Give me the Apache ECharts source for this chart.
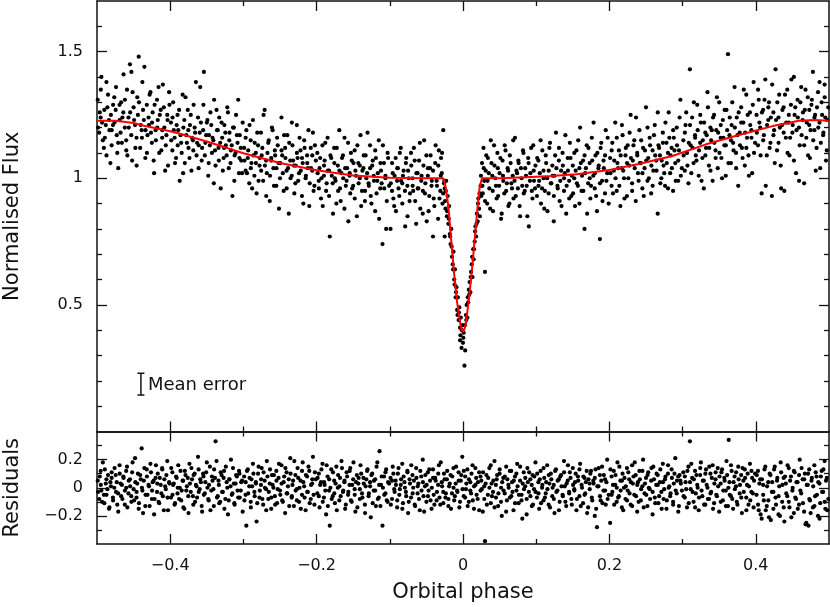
<!DOCTYPE html>
<html>
<head>
<meta charset="utf-8">
<script src="https://cdn.jsdelivr.net/npm/echarts@6/dist/echarts.min.js"></script>
<style>
  html, body { margin: 0; padding: 0; background: #fff; }
  #chart { width: 830px; height: 607px; }
</style>
</head>
<body>
<div id="chart"></div>
<script>
// tick positions
const phaseMajor = [-0.4, -0.2, 0, 0.2, 0.4];
const phaseMinor = [-0.3, -0.1, 0.1, 0.3];
const fluxMajor = [0.5, 1, 1.5];
const fluxMinor = [0.1, 0.2, 0.3, 0.4, 0.6, 0.7, 0.8, 0.9, 1.1, 1.2, 1.3, 1.4, 1.6];
const residMajor = [-0.2, 0, 0.2];
const residMinor = [-0.3, -0.1, 0.1, 0.3];

// model light curve (red line)
const modelPhase = [-0.5, -0.475, -0.45, -0.434, -0.4, -0.389, -0.35, -0.3, -0.25, -0.2, -0.15, -0.1, -0.05, -0.027,
  -0.024, -0.02, -0.016, -0.012, -0.008, -0.004, -0.002, 0, 0.002, 0.004, 0.008, 0.012, 0.016, 0.02, 0.023, 0.026,
  0.05, 0.086, 0.12, 0.155, 0.2, 0.24, 0.286, 0.332, 0.377, 0.423, 0.459, 0.48, 0.5];
const modelFlux = [1.227, 1.227, 1.218, 1.206, 1.186, 1.178, 1.145, 1.099, 1.06, 1.032, 1.011, 1.002, 1.0, 1.0,
  0.97, 0.89, 0.75, 0.62, 0.51, 0.43, 0.405, 0.394, 0.405, 0.43, 0.52, 0.63, 0.76, 0.89, 0.97, 1.0,
  1.0, 1.004, 1.009, 1.016, 1.033, 1.056, 1.088, 1.134, 1.171, 1.206, 1.227, 1.23, 1.227];

// mean error bar: [phase, flux], half length
const meanErrorAt = [-0.44, 0.187];
const meanErrorHalf = 0.043;

// observed fluxes [phase, flux], first run
const fluxObsA = [
[-0.499,1.31],[-0.497,1.18],[-0.495,1.24],[-0.494,1.40],[-0.492,1.15],[-0.490,1.27],[-0.488,1.21],[-0.487,1.09],[-0.485,1.33],[-0.483,1.19],
[-0.481,1.25],[-0.480,1.13],[-0.478,1.29],[-0.476,1.22],[-0.474,1.36],[-0.473,1.17],[-0.471,1.04],[-0.469,1.23],[-0.467,1.30],[-0.466,1.14],
[-0.464,1.26],[-0.462,1.20],[-0.460,1.11],[-0.459,1.35],[-0.457,1.24],[-0.455,1.45],[-0.453,1.42],[-0.452,1.07],[-0.450,1.28],[-0.448,1.21],
[-0.446,1.16],[-0.445,1.32],[-0.443,1.48],[-0.441,1.12],[-0.439,1.19],[-0.438,1.38],[-0.436,1.23],[-0.434,1.08],[-0.432,1.29],[-0.431,1.17],
[-0.429,1.21],[-0.427,1.34],[-0.425,1.14],[-0.424,1.26],[-0.422,1.02],[-0.420,1.19],[-0.418,1.31],[-0.417,1.23],[-0.415,1.10],[-0.413,1.27],
[-0.411,1.16],[-0.410,1.37],[-0.408,1.20],[-0.406,1.13],[-0.404,1.25],[-0.403,1.05],[-0.401,1.29],
[-0.399,1.22],[-0.397,1.11],[-0.396,1.30],[-0.394,1.16],[-0.392,1.08],[-0.390,1.25],[-0.389,1.19],[-0.387,0.99],[-0.385,1.14],[-0.383,1.33],
[-0.382,1.20],[-0.380,1.06],[-0.378,1.17],[-0.376,1.27],[-0.375,1.12],[-0.373,1.21],[-0.371,1.03],[-0.369,1.15],[-0.368,1.29],[-0.366,1.18],
[-0.364,1.09],[-0.362,1.24],[-0.361,1.13],[-0.359,1.36],[-0.357,1.07],[-0.355,1.19],[-0.354,1.42],[-0.352,1.14],[-0.350,1.22],[-0.348,1.01],
[-0.347,1.17],[-0.345,1.26],[-0.343,1.10],[-0.341,1.15],[-0.340,1.31],[-0.338,1.05],[-0.336,1.19],[-0.334,1.12],[-0.333,1.24],[-0.331,0.96],
[-0.329,1.16],[-0.327,1.08],[-0.326,1.21],[-0.324,1.13],[-0.322,1.28],[-0.320,1.04],[-0.319,1.18],[-0.317,1.11],[-0.315,0.93],[-0.313,1.20],
[-0.312,1.09],[-0.310,1.25],[-0.308,1.14],[-0.306,1.02],[-0.305,1.17],[-0.303,1.07],[-0.301,1.22],
[-0.299,1.12],[-0.297,1.03],[-0.296,1.19],[-0.294,1.08],[-0.292,0.98],[-0.290,1.15],[-0.289,1.06],[-0.287,1.23],[-0.285,1.01],[-0.283,1.10],
[-0.282,0.94],[-0.280,1.13],[-0.278,1.05],[-0.276,1.18],[-0.275,1.09],[-0.273,0.99],[-0.271,1.27],[-0.269,1.07],[-0.268,1.02],[-0.266,1.14],
[-0.264,0.91],[-0.262,1.08],[-0.261,1.20],[-0.259,1.04],[-0.257,1.11],[-0.255,0.97],[-0.254,1.16],[-0.252,1.06],[-0.250,1.00],[-0.248,1.24],
[-0.247,1.09],[-0.245,0.95],[-0.243,1.12],[-0.241,1.03],[-0.240,1.17],[-0.238,0.86],[-0.236,1.07],[-0.234,1.01],[-0.233,1.13],[-0.231,1.05],
[-0.229,0.98],[-0.227,1.21],[-0.226,1.08],[-0.224,1.02],[-0.222,1.11],[-0.220,0.93],[-0.219,1.06],[-0.217,1.15],[-0.215,1.00],[-0.213,1.09],
[-0.212,1.04],[-0.210,0.89],[-0.208,1.12],[-0.206,1.03],[-0.205,1.18],[-0.203,0.97],[-0.201,1.07],
[-0.199,1.10],[-0.197,0.99],[-0.196,1.04],[-0.194,0.92],[-0.192,1.13],[-0.190,1.01],[-0.189,1.07],[-0.187,0.95],[-0.185,1.16],[-0.183,1.03],
[-0.182,0.77],[-0.180,1.08],[-0.178,0.98],[-0.176,1.12],[-0.175,1.00],[-0.173,0.90],[-0.171,1.05],[-0.169,1.19],[-0.168,0.96],[-0.166,1.02],
[-0.164,1.09],[-0.162,0.88],[-0.161,1.04],[-0.159,0.99],[-0.157,1.14],[-0.155,1.01],[-0.154,0.94],[-0.152,1.07],[-0.150,0.97],[-0.148,1.11],
[-0.147,1.03],[-0.145,0.85],[-0.143,1.06],[-0.141,1.00],[-0.140,1.17],[-0.138,0.95],[-0.136,1.04],[-0.134,0.91],[-0.133,1.09],[-0.131,1.02],
[-0.129,0.98],[-0.127,1.13],[-0.126,0.93],[-0.124,1.05],[-0.122,1.01],[-0.120,0.87],[-0.119,1.08],[-0.117,0.99],[-0.115,1.15],[-0.113,0.96],
[-0.112,1.03],[-0.110,0.74],[-0.108,1.06],[-0.106,1.00],[-0.105,0.80],[-0.103,1.10],[-0.101,0.97],
[-0.099,0.80],[-0.097,0.95],[-0.096,1.02],[-0.094,0.89],[-0.092,1.08],[-0.090,0.99],[-0.089,1.04],[-0.087,0.93],[-0.085,1.12],[-0.083,0.98],
[-0.082,1.01],[-0.079,0.81],[-0.078,1.06],[-0.076,0.97],[-0.075,1.03],[-0.073,0.91],[-0.071,1.10],[-0.069,1.00],[-0.068,0.95],[-0.066,1.07],
[-0.064,0.82],[-0.062,1.02],[-0.061,0.96],[-0.059,1.14],[-0.057,0.99],[-0.055,0.86],[-0.054,1.05],[-0.052,0.94],[-0.050,1.09],[-0.048,1.01],
[-0.047,0.87],[-0.045,1.04],[-0.043,0.97],[-0.041,0.77],[-0.040,0.92],[-0.038,1.06],[-0.036,0.99],[-0.034,0.84],[-0.033,1.11],[-0.031,0.95],
[-0.030,1.08],[-0.029,1.02],[-0.028,0.90],[-0.027,1.19],[-0.026,0.98],
[-0.025,0.77],[-0.025,0.96],[-0.024,0.88],[-0.023,0.99],[-0.022,0.85],[-0.021,0.93],[-0.020,0.82],[-0.019,0.89],[-0.018,0.78],[-0.017,0.74],
[-0.016,0.80],[-0.015,0.69],[-0.014,0.66],[-0.013,0.71],[-0.012,0.60],[-0.011,0.64],[-0.010,0.53],[-0.009,0.57],[-0.008,0.48],[-0.007,0.53],
[-0.006,0.44],[-0.005,0.49],[-0.004,0.36],[-0.004,0.41],[-0.003,0.45],[-0.002,0.33],[-0.001,0.42],[0.000,0.35],[0.001,0.39],[0.002,0.26],
[0.003,0.32],[0.004,0.46],[0.005,0.50],[0.006,0.45],[0.007,0.51],[0.008,0.56],[0.009,0.59],[0.010,0.55],[0.011,0.63],[0.012,0.66],
[0.013,0.61],[0.014,0.72],[0.015,0.72],[0.016,0.75],[0.017,0.81],[0.018,0.77],[0.019,0.86],[0.020,0.83],[0.021,0.92],[0.022,0.88],
[0.023,0.85],[0.024,0.97],[0.025,0.93],
[0.026,1.06],[0.027,0.94],[0.028,1.12],[0.029,0.99],[0.030,0.63],[0.031,1.03],[0.033,0.90],[0.034,1.08],[0.036,0.96],[0.038,1.15],
[0.040,1.01],[0.041,0.87],[0.043,1.05],[0.045,0.97],[0.047,1.10],[0.048,0.93],[0.050,1.02],[0.052,0.84],[0.054,1.07],[0.055,0.99],
[0.057,1.13],[0.059,0.95],[0.061,1.04],[0.062,0.89],[0.064,1.09],[0.066,0.98],[0.068,1.01],[0.069,0.92],[0.071,1.16],[0.073,1.03],
[0.075,0.96],[0.076,1.06],[0.078,0.85],[0.080,1.00],[0.082,1.11],[0.083,0.94],[0.085,1.04],[0.087,0.97],[0.089,1.08],[0.090,0.81],
[0.092,1.02],[0.094,0.95],[0.096,1.13],[0.097,0.99],[0.099,1.05],
[0.101,0.93],[0.103,1.07],[0.104,0.99],[0.106,1.15],[0.108,0.96],[0.110,1.03],[0.111,0.88],[0.113,1.09],[0.115,1.00],[0.117,0.94],
[0.118,1.12],[0.120,0.98],[0.122,1.05],[0.124,0.83],[0.125,1.01],[0.127,1.18],[0.129,0.97],[0.131,1.07],[0.132,0.91],[0.134,1.03],
[0.136,1.10],[0.138,0.95],[0.139,1.02],[0.141,0.86],[0.143,1.08],[0.145,0.99],[0.146,1.14],[0.148,0.93],[0.150,1.05],[0.152,1.00],
[0.153,0.89],[0.155,1.11],[0.157,0.97],[0.159,1.04],[0.160,1.20],[0.162,0.95],[0.164,1.07],[0.166,0.80],[0.167,1.02],[0.169,1.13],
[0.171,0.98],[0.173,1.06],[0.174,0.92],[0.176,1.16],[0.178,1.01],[0.180,0.96],[0.181,1.09],[0.183,0.87],[0.185,1.04],[0.187,0.76],
[0.188,1.12],[0.190,0.99],[0.192,1.07],[0.194,0.94],[0.195,1.19],[0.197,1.02],[0.199,0.90],
[0.201,1.08],[0.203,0.97],[0.204,1.14],[0.206,1.03],[0.208,1.22],[0.210,0.95],[0.211,1.06],[0.213,1.11],[0.215,0.89],[0.217,1.04],
[0.218,1.17],[0.220,1.00],[0.222,1.09],[0.224,0.93],[0.225,1.13],[0.227,1.05],[0.229,1.25],[0.231,0.98],[0.232,1.07],[0.234,1.15],
[0.236,0.91],[0.238,1.10],[0.239,1.02],[0.241,1.19],[0.243,1.06],[0.245,0.96],[0.246,1.12],[0.248,1.04],[0.250,1.28],[0.252,0.99],
[0.253,1.08],[0.255,1.16],[0.257,0.94],[0.259,1.11],[0.260,1.03],[0.262,1.21],[0.264,1.07],[0.266,0.86],[0.267,1.13],[0.269,1.09],
[0.271,1.00],[0.273,1.18],[0.274,1.05],[0.276,0.97],[0.278,1.14],[0.280,1.10],[0.281,1.26],[0.283,1.02],[0.285,1.12],[0.287,0.95],
[0.288,1.16],[0.290,1.06],[0.292,1.20],[0.294,0.99],[0.295,1.11],[0.297,1.31],[0.299,1.04],
[0.301,1.15],[0.303,1.03],[0.304,1.21],[0.306,1.10],[0.308,0.98],[0.310,1.43],[0.311,1.13],[0.313,1.24],[0.315,1.06],[0.317,1.17],
[0.318,1.09],[0.320,1.29],[0.322,1.01],[0.324,1.14],[0.325,1.22],[0.327,1.08],[0.329,0.96],[0.331,1.18],[0.332,1.12],[0.334,1.34],
[0.336,1.05],[0.338,1.20],[0.339,1.15],[0.341,0.99],[0.343,1.25],[0.345,1.11],[0.346,1.19],[0.348,1.04],[0.350,1.30],[0.352,1.16],
[0.353,1.08],[0.355,1.23],[0.357,1.13],[0.359,1.01],[0.360,1.27],[0.362,1.49],[0.364,1.17],[0.366,1.06],[0.367,1.21],[0.369,1.14],
[0.371,1.36],[0.373,1.10],[0.374,1.24],[0.376,0.97],[0.378,1.18],[0.380,1.28],[0.381,1.12],[0.383,1.22],[0.385,1.05],[0.387,1.33],
[0.388,1.16],[0.390,1.09],[0.392,1.26],[0.394,1.19],[0.395,1.02],[0.397,1.38],[0.399,1.14],
[0.401,1.25],[0.403,1.13],[0.404,1.31],[0.406,1.20],[0.408,0.94],[0.410,1.27],[0.411,1.17],[0.413,1.39],[0.415,1.09],[0.417,1.23],
[0.418,1.30],[0.420,1.14],[0.422,0.93],[0.424,1.26],[0.425,1.19],[0.427,1.43],[0.429,1.11],[0.431,1.24],[0.432,1.33],[0.434,1.05],
[0.436,1.21],[0.438,1.28],[0.439,0.95],[0.441,1.16],[0.443,1.35],[0.445,1.22],[0.446,1.09],[0.448,1.29],[0.450,1.18],[0.452,1.40],
[0.453,1.25],[0.455,1.02],[0.457,1.31],[0.459,1.20],[0.460,1.13],[0.462,1.36],[0.464,1.23],[0.466,0.98],[0.467,1.27],[0.469,1.16],
[0.471,1.32],[0.473,1.21],[0.474,1.08],[0.476,1.29],[0.478,1.42],[0.480,1.19],[0.481,1.25],[0.483,1.12],[0.485,1.34],[0.487,1.22],
[0.488,1.04],[0.490,1.30],[0.492,1.17],[0.494,1.37],[0.495,1.24],[0.497,1.11],[0.499,1.28]
];

// observed fluxes [phase, flux], second run
const fluxObsB = [
[-0.4985,1.20],[-0.4962,1.26],[-0.4948,1.35],[-0.4931,1.22],[-0.4906,1.12],[-0.4893,1.16],[-0.4871,1.38],[-0.4858,1.28],[-0.4836,1.23],[-0.4817,1.06],
[-0.4799,1.19],[-0.4782,1.21],[-0.4764,1.32],[-0.4745,1.27],[-0.4723,1.10],[-0.4711,1.14],[-0.4692,1.29],[-0.4678,1.18],[-0.4653,1.24],[-0.4637,1.41],
[-0.4619,1.31],[-0.4601,1.15],[-0.4585,1.09],[-0.4566,1.20],[-0.4547,1.26],[-0.4532,1.17],[-0.4514,1.34],[-0.4493,1.23],[-0.4476,1.12],[-0.4459,1.05],
[-0.4441,1.25],[-0.4427,1.30],[-0.4402,1.21],[-0.4386,1.16],[-0.4371,1.27],[-0.4353,1.44],[-0.4337,1.19],[-0.4318,1.10],[-0.4296,1.24],[-0.4281,1.33],
[-0.4263,1.18],[-0.4248,1.22],[-0.4226,1.07],[-0.4213,1.29],[-0.4195,1.15],[-0.4177,1.20],[-0.4159,1.36],[-0.4142,1.25],[-0.4121,1.11],[-0.4108,1.19],
[-0.4087,1.28],[-0.4069,1.03],[-0.4052,1.17],[-0.4036,1.23],[-0.4015,1.34],
[-0.3986,1.15],[-0.3968,1.24],[-0.3951,1.19],[-0.3934,1.06],[-0.3912,1.21],[-0.3897,1.13],[-0.3878,1.27],[-0.3859,1.17],[-0.3843,1.10],[-0.3824,1.02],
[-0.3807,1.23],[-0.3791,1.32],[-0.3772,1.14],[-0.3753,1.19],[-0.3737,1.08],[-0.3719,1.25],[-0.3702,1.16],[-0.3684,1.11],[-0.3666,1.20],[-0.3649,1.38],
[-0.3633,1.14],[-0.3612,1.04],[-0.3597,1.18],[-0.3581,1.22],[-0.3564,1.12],[-0.3546,1.29],[-0.3527,1.09],[-0.3509,1.17],[-0.3491,1.23],[-0.3474,1.06],
[-0.3458,1.13],[-0.3439,1.21],[-0.3422,1.16],[-0.3404,0.98],[-0.3388,1.11],[-0.3367,1.27],[-0.3351,1.19],[-0.3335,1.07],[-0.3317,1.14],[-0.3298,1.22],
[-0.3281,1.03],[-0.3264,1.12],[-0.3247,1.18],[-0.3229,1.09],[-0.3211,1.26],[-0.3193,1.15],[-0.3176,1.06],[-0.3159,1.13],[-0.3142,1.20],[-0.3124,0.99],
[-0.3107,1.10],[-0.3089,1.17],[-0.3071,1.31],[-0.3054,1.08],[-0.3036,1.12],[-0.3018,1.02],
[-0.2986,1.07],[-0.2969,1.16],[-0.2951,1.02],[-0.2934,1.11],[-0.2916,1.21],[-0.2898,1.04],[-0.2881,0.96],[-0.2863,1.09],[-0.2846,1.14],[-0.2829,1.06],
[-0.2811,1.18],[-0.2793,0.99],[-0.2776,1.08],[-0.2758,1.03],[-0.2741,1.12],[-0.2724,1.25],[-0.2706,1.05],[-0.2688,0.93],[-0.2671,1.10],[-0.2653,1.15],
[-0.2636,1.01],[-0.2619,1.07],[-0.2601,1.19],[-0.2583,0.97],[-0.2566,1.09],[-0.2548,1.04],[-0.2531,1.13],[-0.2514,0.88],[-0.2496,1.06],[-0.2479,1.11],
[-0.2461,1.02],[-0.2443,1.17],[-0.2426,1.08],[-0.2409,0.96],[-0.2391,1.04],[-0.2374,1.14],[-0.2356,1.00],[-0.2338,1.22],[-0.2321,1.07],[-0.2304,0.94],
[-0.2286,1.05],[-0.2269,1.10],[-0.2251,0.99],[-0.2233,1.16],[-0.2216,1.03],[-0.2199,1.08],[-0.2181,0.90],[-0.2164,1.12],[-0.2146,1.01],[-0.2128,1.06],
[-0.2111,1.19],[-0.2094,0.98],[-0.2076,1.04],[-0.2059,1.09],[-0.2041,0.95],[-0.2023,1.13],
[-0.1986,1.02],[-0.1969,0.96],[-0.1951,1.08],[-0.1934,1.00],[-0.1916,0.89],[-0.1898,1.05],[-0.1881,1.14],[-0.1863,0.98],[-0.1846,1.03],[-0.1829,0.93],
[-0.1811,1.09],[-0.1793,1.01],[-0.1776,0.86],[-0.1758,1.06],[-0.1741,0.99],[-0.1724,1.12],[-0.1706,0.95],[-0.1688,1.03],[-0.1671,0.91],[-0.1653,1.08],
[-0.1636,1.00],[-0.1619,1.16],[-0.1601,0.97],[-0.1583,1.04],[-0.1566,0.83],[-0.1548,1.02],[-0.1531,1.10],[-0.1514,0.96],[-0.1496,1.06],[-0.1479,0.92],
[-0.1461,1.01],[-0.1443,1.13],[-0.1426,0.98],[-0.1409,1.05],[-0.1391,0.89],[-0.1374,1.03],[-0.1356,1.09],[-0.1338,0.95],[-0.1321,1.00],[-0.1304,1.18],
[-0.1286,0.97],[-0.1269,1.04],[-0.1251,0.90],[-0.1233,1.07],[-0.1216,0.99],[-0.1199,1.11],[-0.1181,0.94],[-0.1164,1.02],[-0.1146,0.84],[-0.1128,1.06],
[-0.1111,0.98],[-0.1094,1.13],[-0.1076,0.96],[-0.1059,1.01],[-0.1041,0.91],[-0.1023,1.08],
[-0.0986,0.98],[-0.0969,1.06],[-0.0951,0.92],[-0.0934,1.01],[-0.0916,0.87],[-0.0898,1.04],[-0.0881,0.96],[-0.0863,1.10],[-0.0846,0.99],[-0.0829,0.90],
[-0.0811,1.03],[-0.0793,0.95],[-0.0776,1.08],[-0.0758,0.85],[-0.0741,1.00],[-0.0724,0.94],[-0.0706,1.05],[-0.0688,0.97],[-0.0671,1.12],[-0.0653,0.91],
[-0.0636,1.02],[-0.0619,0.96],[-0.0601,1.07],[-0.0583,0.88],[-0.0566,1.01],[-0.0548,0.95],[-0.0531,1.15],[-0.0514,0.98],[-0.0496,0.83],[-0.0479,1.04],
[-0.0461,0.93],[-0.0443,1.09],[-0.0426,0.99],[-0.0409,1.03],[-0.0391,0.89],[-0.0374,1.13],[-0.0356,0.97],[-0.0338,1.05],[-0.0321,0.92],[-0.0304,1.01],
[-0.0286,1.10],[-0.0271,0.94],
[-0.0255,0.99],[-0.0245,0.91],[-0.0235,0.95],[-0.0215,0.87],[-0.0195,0.84],[-0.0175,0.77],[-0.0155,0.73],[-0.0135,0.64],[-0.0115,0.58],[-0.0095,0.55],
[-0.0075,0.46],[-0.0055,0.47],[-0.0035,0.38],[-0.0015,0.40],[0.0005,0.37],[0.0025,0.42],[0.0045,0.44],[0.0065,0.53],[0.0085,0.54],[0.0105,0.61],
[0.0125,0.69],[0.0145,0.68],[0.0165,0.79],[0.0185,0.82],[0.0205,0.90],[0.0225,0.94],[0.0245,1.01],
[0.0265,0.97],[0.0283,1.04],[0.0301,0.91],[0.0318,1.09],[0.0336,0.99],[0.0353,1.02],[0.0371,0.88],[0.0389,1.06],[0.0406,0.95],[0.0424,1.13],
[0.0441,1.00],[0.0459,0.92],[0.0476,1.04],[0.0494,0.97],[0.0511,1.08],[0.0529,0.86],[0.0546,1.01],[0.0564,0.94],[0.0581,1.11],[0.0599,0.98],
[0.0616,1.03],[0.0634,0.90],[0.0651,1.06],[0.0669,0.96],[0.0686,1.15],[0.0704,0.99],[0.0721,0.93],[0.0739,1.02],[0.0756,1.07],[0.0774,0.89],
[0.0791,1.04],[0.0809,0.97],[0.0826,1.10],[0.0844,0.95],[0.0861,1.01],[0.0879,0.85],[0.0896,1.06],[0.0914,0.99],[0.0931,1.12],[0.0949,0.92],
[0.0966,1.03],[0.0984,0.96],
[0.1014,1.08],[0.1031,0.97],[0.1049,1.02],[0.1066,0.90],[0.1084,1.11],[0.1101,1.00],[0.1119,0.95],[0.1136,1.06],[0.1154,0.87],[0.1171,1.03],
[0.1189,1.14],[0.1206,0.98],[0.1224,1.01],[0.1241,0.93],[0.1259,1.09],[0.1276,1.04],[0.1294,0.96],[0.1311,1.12],[0.1329,0.99],[0.1346,0.89],
[0.1364,1.05],[0.1381,1.00],[0.1399,1.17],[0.1416,0.97],[0.1434,1.03],[0.1451,0.92],[0.1469,1.08],[0.1486,1.01],[0.1504,0.94],[0.1521,1.10],
[0.1539,1.03],[0.1556,0.98],[0.1574,1.15],[0.1591,0.90],[0.1609,1.06],[0.1626,1.01],[0.1644,0.95],[0.1661,1.09],[0.1679,1.04],[0.1696,0.86],
[0.1714,1.12],[0.1731,1.00],[0.1749,0.97],[0.1766,1.07],[0.1784,1.22],[0.1801,1.02],[0.1819,0.93],[0.1836,1.10],[0.1854,1.05],[0.1871,0.98],
[0.1889,1.14],[0.1906,0.91],[0.1924,1.04],[0.1941,1.09],[0.1959,0.99],[0.1976,1.16],
[0.2014,1.02],[0.2031,1.11],[0.2049,0.94],[0.2066,1.07],[0.2084,1.00],[0.2101,1.16],[0.2119,1.04],[0.2136,0.97],[0.2154,1.09],[0.2171,1.21],
[0.2189,1.03],[0.2206,0.92],[0.2224,1.12],[0.2241,1.06],[0.2259,1.00],[0.2276,1.18],[0.2294,1.08],[0.2311,0.95],[0.2329,1.13],[0.2346,1.04],
[0.2364,1.24],[0.2381,1.09],[0.2399,0.99],[0.2416,1.06],[0.2434,1.15],[0.2451,1.02],[0.2469,0.93],[0.2486,1.11],[0.2504,1.07],[0.2521,1.20],
[0.2539,1.00],[0.2556,1.13],[0.2574,1.05],[0.2591,0.97],[0.2609,1.17],[0.2626,1.09],[0.2644,1.03],[0.2661,1.26],[0.2679,1.12],[0.2696,0.98],
[0.2714,1.07],[0.2731,1.14],[0.2749,1.02],[0.2766,1.22],[0.2784,1.06],[0.2801,0.96],[0.2819,1.16],[0.2836,1.09],[0.2854,1.04],[0.2871,1.19],
[0.2889,1.11],[0.2906,0.99],[0.2924,1.13],[0.2941,1.07],[0.2959,1.24],[0.2976,1.01],
[0.3014,1.09],[0.3031,1.18],[0.3049,1.26],[0.3066,1.05],[0.3084,1.14],[0.3101,1.21],[0.3119,1.02],[0.3136,1.12],[0.3154,1.30],[0.3171,1.16],
[0.3189,1.07],[0.3206,1.19],[0.3224,1.11],[0.3241,1.25],[0.3259,0.99],[0.3276,1.15],[0.3294,1.22],[0.3311,1.09],[0.3329,1.17],[0.3346,1.28],
[0.3364,1.12],[0.3381,1.03],[0.3399,1.19],[0.3416,1.24],[0.3434,1.14],[0.3451,1.08],[0.3469,1.32],[0.3486,1.18],[0.3504,1.10],[0.3521,1.21],
[0.3539,1.00],[0.3556,1.16],[0.3574,1.27],[0.3591,1.13],[0.3609,1.19],[0.3626,1.06],[0.3644,1.24],[0.3661,1.15],[0.3679,1.30],[0.3696,1.11],
[0.3714,1.20],[0.3731,1.04],[0.3749,1.17],[0.3766,1.26],[0.3784,1.13],[0.3801,1.22],[0.3819,1.08],[0.3836,1.35],[0.3854,1.18],[0.3871,1.12],
[0.3889,1.25],[0.3906,1.01],[0.3924,1.21],[0.3941,1.16],[0.3959,1.29],[0.3976,1.10],
[0.4014,1.18],[0.4031,1.35],[0.4049,1.22],[0.4066,1.09],[0.4084,1.26],[0.4101,1.15],[0.4119,1.31],[0.4136,0.97],[0.4154,1.21],[0.4171,1.28],
[0.4189,1.12],[0.4206,1.24],[0.4224,1.37],[0.4241,1.17],[0.4259,1.06],[0.4276,1.23],[0.4294,1.30],[0.4311,1.14],[0.4329,1.20],[0.4346,0.96],
[0.4364,1.27],[0.4381,1.18],[0.4399,1.33],[0.4416,1.22],[0.4434,1.10],[0.4451,1.25],[0.4469,1.16],[0.4486,1.39],[0.4504,1.21],[0.4521,1.07],
[0.4539,1.28],[0.4556,1.19],[0.4574,1.24],[0.4591,0.99],[0.4609,1.30],[0.4626,1.17],[0.4644,1.26],[0.4661,1.13],[0.4679,1.35],[0.4696,1.22],
[0.4714,1.09],[0.4731,1.27],[0.4749,1.19],[0.4766,1.31],[0.4784,1.15],[0.4801,1.24],[0.4819,1.03],[0.4836,1.28],[0.4854,1.20],[0.4871,1.38],
[0.4889,1.14],[0.4906,1.25],[0.4924,1.18],[0.4941,1.32],[0.4959,1.07],[0.4976,1.23]
];

// residuals [phase, O-C], first run
const residObsA = [
[-0.499,0.05],[-0.497,-0.08],[-0.495,0.12],[-0.494,-0.02],[-0.492,0.18],[-0.490,-0.11],[-0.488,0.03],[-0.487,-0.05],[-0.485,0.09],[-0.483,-0.14],
[-0.481,0.01],[-0.480,0.07],[-0.478,-0.09],[-0.476,0.14],[-0.474,-0.03],[-0.473,0.04],[-0.471,-0.17],[-0.469,0.10],[-0.467,-0.06],[-0.466,0.02],
[-0.464,0.08],[-0.462,-0.12],[-0.460,0.00],[-0.459,0.15],[-0.457,-0.04],[-0.455,0.06],[-0.453,-0.10],[-0.452,0.11],[-0.450,-0.01],[-0.448,0.21],
[-0.446,-0.07],[-0.445,0.03],[-0.443,-0.15],[-0.441,0.09],[-0.439,0.28],[-0.438,-0.02],[-0.436,0.05],[-0.434,-0.13],[-0.432,0.13],[-0.431,-0.05],
[-0.429,0.01],[-0.427,0.17],[-0.425,-0.08],[-0.424,0.04],[-0.422,-0.19],[-0.420,0.07],[-0.418,-0.03],[-0.417,0.10],[-0.415,-0.11],[-0.413,0.02],
[-0.411,0.14],[-0.410,-0.06],[-0.408,0.06],[-0.406,-0.01],[-0.404,0.19],[-0.403,-0.16],[-0.401,0.03],
[-0.399,-0.07],[-0.397,0.11],[-0.396,0.02],[-0.394,-0.12],[-0.392,0.08],[-0.390,-0.04],[-0.389,0.16],[-0.387,0.00],[-0.385,-0.09],[-0.383,0.05],
[-0.382,-0.14],[-0.380,0.12],[-0.378,-0.02],[-0.376,0.07],[-0.375,-0.18],[-0.373,0.03],[-0.371,0.14],[-0.369,-0.06],[-0.368,0.09],[-0.366,-0.10],
[-0.364,0.01],[-0.362,0.22],[-0.361,-0.03],[-0.359,0.06],[-0.357,-0.13],[-0.355,0.10],[-0.354,-0.05],[-0.352,0.04],[-0.350,0.18],[-0.348,-0.08],
[-0.347,0.02],[-0.345,-0.16],[-0.343,0.08],[-0.341,-0.01],[-0.340,0.13],[-0.338,0.33],[-0.336,-0.07],[-0.334,0.05],[-0.333,-0.11],[-0.331,0.11],
[-0.329,-0.03],[-0.327,0.07],[-0.326,-0.15],[-0.324,0.15],[-0.322,0.00],[-0.320,-0.09],[-0.319,0.06],[-0.317,0.20],[-0.315,-0.04],[-0.313,0.03],
[-0.312,-0.12],[-0.310,0.09],[-0.308,-0.02],[-0.306,0.12],[-0.305,-0.07],[-0.303,0.04],[-0.301,-0.17],
[-0.299,0.08],[-0.297,-0.05],[-0.296,-0.27],[-0.294,0.13],[-0.292,0.01],[-0.290,-0.10],[-0.289,0.06],[-0.287,0.17],[-0.285,-0.03],[-0.283,0.04],
[-0.282,-0.24],[-0.280,0.10],[-0.278,-0.07],[-0.276,0.02],[-0.275,0.14],[-0.273,-0.12],[-0.271,0.05],[-0.269,-0.01],[-0.268,0.19],[-0.266,-0.08],
[-0.264,0.03],[-0.262,-0.15],[-0.261,0.09],[-0.259,0.00],[-0.257,-0.06],[-0.255,0.12],[-0.254,-0.11],[-0.252,0.07],[-0.250,-0.02],[-0.248,0.16],
[-0.247,-0.09],[-0.245,0.04],[-0.243,-0.18],[-0.241,0.11],[-0.240,-0.04],[-0.238,0.06],[-0.236,0.21],[-0.234,-0.07],[-0.233,0.02],[-0.231,-0.13],
[-0.229,0.09],[-0.227,-0.01],[-0.226,0.14],[-0.224,-0.10],[-0.222,0.05],[-0.220,-0.05],[-0.219,0.18],[-0.217,0.01],[-0.215,-0.16],[-0.213,0.08],
[-0.212,-0.03],[-0.210,0.12],[-0.208,-0.08],[-0.206,0.03],[-0.205,0.22],[-0.203,-0.12],[-0.201,0.06],
[-0.199,-0.04],[-0.197,0.10],[-0.196,-0.14],[-0.194,0.04],[-0.192,0.17],[-0.190,-0.07],[-0.189,0.02],[-0.187,-0.19],[-0.185,0.08],[-0.183,-0.02],
[-0.182,-0.27],[-0.180,0.13],[-0.178,-0.06],[-0.176,0.05],[-0.175,-0.11],[-0.173,0.15],[-0.171,0.00],[-0.169,-0.09],[-0.168,0.07],[-0.166,0.19],
[-0.164,-0.03],[-0.162,0.04],[-0.161,-0.15],[-0.159,0.11],[-0.157,-0.05],[-0.155,0.02],[-0.154,0.14],[-0.152,-0.10],[-0.150,0.06],[-0.148,-0.01],
[-0.147,-0.17],[-0.145,0.09],[-0.143,0.03],[-0.141,-0.08],[-0.140,0.16],[-0.138,-0.04],[-0.136,0.07],[-0.134,-0.12],[-0.133,0.01],[-0.131,0.12],
[-0.129,-0.06],[-0.127,0.04],[-0.126,-0.21],[-0.124,0.10],[-0.122,-0.02],[-0.120,0.06],[-0.119,-0.13],[-0.117,0.18],[-0.115,-0.07],[-0.114,0.26],
[-0.112,0.02],[-0.110,-0.27],[-0.108,0.08],[-0.106,-0.04],[-0.105,0.13],[-0.103,-0.10],[-0.101,0.03],
[-0.099,0.07],[-0.097,-0.08],[-0.096,0.15],[-0.094,-0.01],[-0.092,0.05],[-0.090,-0.14],[-0.089,0.10],[-0.087,-0.05],[-0.085,0.02],[-0.083,0.17],
[-0.082,-0.11],[-0.080,0.04],[-0.078,-0.03],[-0.076,0.12],[-0.075,-0.18],[-0.073,0.06],[-0.071,-0.07],[-0.069,0.09],[-0.068,0.00],[-0.066,-0.12],
[-0.064,0.14],[-0.062,-0.04],[-0.061,0.03],[-0.059,-0.16],[-0.057,0.08],[-0.055,0.20],[-0.054,-0.06],[-0.052,0.01],[-0.050,-0.10],[-0.048,0.11],
[-0.047,-0.02],[-0.045,0.05],[-0.043,-0.15],[-0.041,0.13],[-0.040,-0.05],[-0.038,0.07],[-0.036,-0.09],[-0.034,0.02],[-0.033,0.16],[-0.031,-0.12],
[-0.029,0.04],[-0.027,-0.03],[-0.026,0.10],[-0.024,-0.07],[-0.022,0.06],[-0.020,-0.13],[-0.019,0.01],[-0.017,0.09],[-0.015,-0.04],[-0.013,0.14],
[-0.012,-0.09],[-0.010,0.03],[-0.008,-0.02],[-0.006,0.11],[-0.005,-0.14],[-0.003,0.05],[-0.001,0.22],
[0.001,-0.06],[0.003,0.08],[0.004,-0.01],[0.006,0.13],[0.008,-0.10],[0.010,0.04],[0.011,-0.04],[0.013,0.16],[0.015,-0.15],[0.017,0.02],
[0.018,0.07],[0.020,-0.08],[0.022,0.11],[0.024,-0.02],[0.025,0.05],[0.027,-0.17],[0.029,0.01],[0.030,-0.38],[0.032,0.09],[0.034,-0.05],
[0.036,0.14],[0.038,-0.11],[0.039,0.03],[0.041,-0.03],[0.043,0.19],[0.045,-0.07],[0.046,0.06],[0.048,-0.13],[0.050,0.10],[0.052,0.00],
[0.053,-0.20],[0.055,0.07],[0.057,-0.04],[0.059,0.15],[0.060,-0.09],[0.062,0.02],[0.064,0.12],[0.066,-0.06],[0.067,0.04],[0.069,-0.16],
[0.071,0.08],[0.073,-0.02],[0.074,0.17],[0.076,-0.11],[0.078,0.05],[0.080,-0.05],[0.081,-0.22],[0.083,0.11],[0.085,0.01],[0.087,-0.08],
[0.088,0.14],[0.090,-0.03],[0.092,0.06],[0.094,-0.13],[0.095,0.09],[0.097,-0.01],[0.099,0.18],
[0.101,-0.07],[0.103,0.04],[0.104,-0.15],[0.106,0.12],[0.108,0.00],[0.110,-0.09],[0.111,0.07],[0.113,-0.04],[0.115,0.16],[0.117,-0.12],
[0.118,0.03],[0.120,0.10],[0.122,-0.06],[0.124,0.02],[0.125,-0.18],[0.127,0.13],[0.129,-0.02],[0.131,0.06],[0.132,-0.10],[0.134,0.09],
[0.136,-0.05],[0.138,0.19],[0.139,0.01],[0.141,-0.13],[0.143,0.05],[0.145,-0.03],[0.146,0.11],[0.148,-0.08],[0.150,0.14],[0.152,-0.01],
[0.153,0.04],[0.155,-0.16],[0.157,0.08],[0.159,-0.06],[0.160,0.17],[0.162,0.02],[0.164,-0.11],[0.166,0.07],[0.167,-0.04],[0.169,0.12],
[0.171,-0.14],[0.173,0.03],[0.174,0.10],[0.176,-0.07],[0.178,0.05],[0.180,-0.20],[0.181,0.13],[0.183,-0.28],[0.185,0.01],[0.187,0.09],
[0.188,-0.09],[0.190,0.15],[0.192,-0.02],[0.194,0.06],[0.195,-0.12],[0.197,0.20],[0.199,-0.05],
[0.201,-0.25],[0.203,0.08],[0.204,-0.03],[0.206,0.12],[0.208,0.02],[0.210,-0.10],[0.211,0.18],[0.213,-0.06],[0.215,0.05],[0.217,-0.14],
[0.218,0.10],[0.220,0.00],[0.222,-0.08],[0.224,0.14],[0.225,-0.02],[0.227,0.06],[0.229,-0.12],[0.231,0.16],[0.232,0.03],[0.234,-0.05],
[0.236,0.09],[0.238,-0.17],[0.239,0.04],[0.241,0.12],[0.243,-0.09],[0.245,0.01],[0.246,0.20],[0.248,-0.04],[0.250,0.07],[0.252,-0.13],
[0.253,0.11],[0.255,-0.01],[0.257,0.05],[0.259,-0.19],[0.260,0.15],[0.262,-0.07],[0.264,0.02],[0.266,0.09],[0.267,-0.11],[0.269,0.04],
[0.271,-0.03],[0.273,0.17],[0.274,-0.08],[0.276,0.06],[0.278,-0.15],[0.280,0.10],[0.281,0.00],[0.283,-0.06],[0.285,0.13],[0.287,-0.10],
[0.288,0.03],[0.290,0.21],[0.292,-0.04],[0.294,0.08],[0.295,-0.13],[0.297,0.05],[0.299,-0.02],
[0.301,0.11],[0.303,-0.07],[0.304,0.04],[0.306,-0.14],[0.308,0.15],[0.310,0.33],[0.311,-0.01],[0.313,0.07],[0.315,-0.10],[0.317,0.12],
[0.318,-0.04],[0.320,0.02],[0.322,-0.16],[0.324,0.09],[0.325,0.18],[0.327,-0.06],[0.329,0.05],[0.331,-0.12],[0.332,0.13],[0.334,0.00],
[0.336,-0.08],[0.338,0.10],[0.339,-0.03],[0.341,0.16],[0.343,-0.11],[0.345,0.06],[0.346,-0.05],[0.348,0.14],[0.350,-0.17],[0.352,0.03],
[0.353,0.11],[0.355,-0.09],[0.357,0.07],[0.359,-0.02],[0.360,0.19],[0.362,-0.13],[0.363,0.34],[0.364,0.04],[0.366,-0.06],[0.367,0.12],
[0.369,-0.15],[0.371,0.08],[0.373,0.01],[0.374,-0.10],[0.376,0.15],[0.378,-0.04],[0.380,0.09],[0.381,-0.18],[0.383,0.05],[0.385,0.13],
[0.387,-0.07],[0.388,0.02],[0.390,-0.12],[0.392,0.17],[0.394,-0.03],[0.395,0.07],[0.397,-0.14],[0.399,0.10],
[0.401,-0.05],[0.403,0.12],[0.404,-0.16],[0.406,0.06],[0.408,-0.22],[0.410,0.02],[0.411,-0.09],[0.413,0.15],[0.415,-0.13],[0.417,0.04],
[0.418,-0.21],[0.420,0.09],[0.422,-0.03],[0.424,-0.15],[0.425,0.13],[0.427,-0.07],[0.429,0.05],[0.431,-0.19],[0.432,0.01],[0.434,0.18],
[0.436,-0.10],[0.438,0.07],[0.439,-0.24],[0.441,0.03],[0.443,-0.06],[0.445,0.14],[0.446,-0.14],[0.448,0.08],[0.450,-0.02],[0.452,-0.18],
[0.453,0.11],[0.455,-0.08],[0.457,0.04],[0.459,-0.12],[0.460,0.20],[0.462,-0.04],[0.464,0.06],[0.466,-0.17],[0.467,0.10],[0.469,-0.25],
[0.471,0.02],[0.472,-0.27],[0.473,0.13],[0.474,-0.09],[0.476,0.05],[0.478,-0.14],[0.480,0.16],[0.481,-0.06],[0.483,0.08],[0.485,-0.20],
[0.487,0.03],[0.488,-0.11],[0.490,0.12],[0.492,-0.03],[0.494,0.19],[0.495,-0.15],[0.497,0.07],[0.499,-0.08]
];

// residuals [phase, O-C], second run
const residObsB = [
[-0.4985,-0.03],[-0.4962,0.08],[-0.4948,0.02],[-0.4931,-0.10],[-0.4906,-0.05],[-0.4893,0.13],[-0.4871,0.06],[-0.4858,-0.01],[-0.4836,-0.15],[-0.4817,0.04],
[-0.4799,0.11],[-0.4782,-0.07],[-0.4764,0.00],[-0.4745,0.09],[-0.4723,-0.12],[-0.4711,-0.04],[-0.4692,0.16],[-0.4678,0.03],[-0.4653,-0.08],[-0.4637,0.07],
[-0.4619,-0.02],[-0.4601,0.12],[-0.4585,-0.14],[-0.4566,0.05],[-0.4547,0.01],[-0.4532,-0.06],[-0.4514,0.18],[-0.4493,-0.09],[-0.4476,0.04],[-0.4459,-0.03],
[-0.4441,0.10],[-0.4427,-0.11],[-0.4402,0.06],[-0.4386,0.00],[-0.4371,-0.18],[-0.4353,0.14],[-0.4337,-0.05],[-0.4318,0.08],[-0.4296,0.02],[-0.4281,-0.13],
[-0.4263,0.11],[-0.4248,-0.02],[-0.4226,0.05],[-0.4213,-0.08],[-0.4195,0.16],[-0.4177,0.03],[-0.4159,-0.10],[-0.4142,0.07],[-0.4121,-0.04],[-0.4108,0.13],
[-0.4087,-0.16],[-0.4069,0.01],[-0.4052,0.09],[-0.4036,-0.07],[-0.4015,0.04],
[-0.3986,0.14],[-0.3968,-0.05],[-0.3951,0.03],[-0.3934,-0.11],[-0.3912,0.07],[-0.3897,0.00],[-0.3878,-0.08],[-0.3859,0.12],[-0.3843,-0.02],[-0.3824,0.05],
[-0.3807,-0.15],[-0.3791,0.09],[-0.3772,0.01],[-0.3753,-0.06],[-0.3737,0.17],[-0.3719,-0.03],[-0.3702,0.06],[-0.3684,-0.12],[-0.3666,0.10],[-0.3649,0.02],
[-0.3633,-0.07],[-0.3612,0.13],[-0.3597,-0.01],[-0.3581,0.04],[-0.3564,-0.17],[-0.3546,0.08],[-0.3527,-0.04],[-0.3509,0.11],[-0.3491,0.00],[-0.3474,-0.09],
[-0.3458,0.15],[-0.3439,-0.02],[-0.3422,0.05],[-0.3404,-0.13],[-0.3388,0.07],[-0.3367,0.19],[-0.3351,-0.06],[-0.3335,0.02],[-0.3317,-0.10],[-0.3298,0.09],
[-0.3281,-0.03],[-0.3264,0.12],[-0.3247,-0.08],[-0.3229,0.04],[-0.3211,-0.19],[-0.3193,0.06],[-0.3176,0.01],[-0.3159,-0.05],[-0.3142,0.14],[-0.3124,-0.11],
[-0.3107,0.03],[-0.3089,0.08],[-0.3071,-0.07],[-0.3054,0.10],[-0.3036,-0.02],[-0.3018,0.05],
[-0.2986,-0.09],[-0.2969,0.04],[-0.2951,0.12],[-0.2934,-0.04],[-0.2916,0.07],[-0.2898,-0.14],[-0.2881,0.01],[-0.2863,0.10],[-0.2846,-0.06],[-0.2829,0.03],
[-0.2811,-0.11],[-0.2793,0.15],[-0.2776,-0.02],[-0.2758,0.06],[-0.2741,-0.08],[-0.2724,0.11],[-0.2706,0.00],[-0.2688,-0.16],[-0.2671,0.08],[-0.2653,-0.03],
[-0.2636,0.13],[-0.2619,-0.07],[-0.2601,0.02],[-0.2583,0.09],[-0.2566,-0.12],[-0.2548,0.05],[-0.2531,-0.01],[-0.2514,0.17],[-0.2496,-0.05],[-0.2479,0.03],
[-0.2461,-0.10],[-0.2443,0.08],[-0.2426,0.14],[-0.2409,-0.04],[-0.2391,0.01],[-0.2374,-0.13],[-0.2356,0.10],[-0.2338,-0.06],[-0.2321,0.05],[-0.2304,0.19],
[-0.2286,-0.02],[-0.2269,-0.09],[-0.2251,0.07],[-0.2233,0.00],[-0.2216,-0.15],[-0.2199,0.12],[-0.2181,0.04],[-0.2164,-0.07],[-0.2146,0.09],[-0.2128,-0.03],
[-0.2111,0.15],[-0.2094,-0.11],[-0.2076,0.02],[-0.2059,0.06],[-0.2041,-0.05],[-0.2023,0.11],
[-0.1986,0.07],[-0.1969,-0.06],[-0.1951,0.02],[-0.1934,0.13],[-0.1916,-0.10],[-0.1898,0.04],[-0.1881,-0.02],[-0.1863,0.16],[-0.1846,-0.13],[-0.1829,0.06],
[-0.1811,0.00],[-0.1793,-0.08],[-0.1776,0.11],[-0.1758,-0.04],[-0.1741,0.03],[-0.1724,-0.16],[-0.1706,0.09],[-0.1688,0.01],[-0.1671,-0.06],[-0.1653,0.14],
[-0.1636,-0.02],[-0.1619,0.05],[-0.1601,-0.12],[-0.1583,0.08],[-0.1566,-0.03],[-0.1548,0.12],[-0.1531,-0.09],[-0.1514,0.02],[-0.1496,0.18],[-0.1479,-0.05],
[-0.1461,0.04],[-0.1443,-0.14],[-0.1426,0.07],[-0.1409,-0.01],[-0.1391,0.10],[-0.1374,-0.07],[-0.1356,0.03],[-0.1338,-0.18],[-0.1321,0.06],[-0.1304,0.13],
[-0.1286,-0.04],[-0.1269,0.01],[-0.1251,0.09],[-0.1233,-0.11],[-0.1216,0.05],[-0.1199,-0.02],[-0.1181,0.15],[-0.1164,-0.08],[-0.1146,0.02],[-0.1128,-0.13],
[-0.1111,0.08],[-0.1094,0.00],[-0.1076,-0.05],[-0.1059,0.11],[-0.1041,-0.09],[-0.1023,0.04],
[-0.0986,-0.12],[-0.0969,0.05],[-0.0951,0.10],[-0.0934,-0.03],[-0.0916,0.02],[-0.0898,-0.09],[-0.0881,0.14],[-0.0863,-0.01],[-0.0846,0.06],[-0.0829,-0.15],
[-0.0811,0.08],[-0.0793,0.00],[-0.0776,-0.06],[-0.0758,0.11],[-0.0741,-0.10],[-0.0724,0.03],[-0.0706,0.16],[-0.0688,-0.04],[-0.0671,0.05],[-0.0653,-0.13],
[-0.0636,0.07],[-0.0619,0.01],[-0.0601,-0.08],[-0.0583,0.12],[-0.0566,-0.02],[-0.0548,0.04],[-0.0531,-0.17],[-0.0514,0.09],[-0.0496,0.02],[-0.0479,-0.06],
[-0.0461,0.13],[-0.0443,-0.09],[-0.0426,0.00],[-0.0409,0.07],[-0.0391,-0.12],[-0.0374,0.05],[-0.0356,-0.03],[-0.0338,0.10],[-0.0321,-0.07],[-0.0304,0.18],
[-0.0286,0.01],[-0.0269,-0.11],[-0.0251,0.06],[-0.0234,-0.04],[-0.0216,0.12],[-0.0199,-0.08],[-0.0181,0.03],[-0.0164,-0.15],[-0.0146,0.08],[-0.0129,0.00],
[-0.0111,-0.06],[-0.0094,0.15],[-0.0076,-0.03],[-0.0059,0.05],[-0.0041,-0.10],[-0.0024,0.09],[-0.0006,-0.01],
[0.0011,0.12],[0.0029,-0.07],[0.0046,0.03],[0.0064,-0.13],[0.0081,0.06],[0.0099,-0.02],[0.0116,0.10],[0.0134,-0.09],[0.0151,0.01],[0.0169,0.14],
[0.0186,-0.05],[0.0204,0.04],[0.0221,-0.16],[0.0239,0.08],[0.0256,-0.01],[0.0274,0.11],[0.0291,-0.08],[0.0309,0.03],[0.0326,-0.12],[0.0344,0.07],
[0.0361,0.00],[0.0379,0.16],[0.0396,-0.06],[0.0414,0.05],[0.0431,-0.14],[0.0449,0.02],[0.0466,0.09],[0.0484,-0.04],[0.0501,0.13],[0.0519,-0.10],
[0.0536,0.04],[0.0554,-0.02],[0.0571,0.08],[0.0589,-0.17],[0.0606,0.06],[0.0624,0.00],[0.0641,-0.07],[0.0659,0.12],[0.0676,-0.03],[0.0694,0.05],
[0.0711,-0.11],[0.0729,0.10],[0.0746,0.01],[0.0764,-0.05],[0.0781,0.15],[0.0799,-0.09],[0.0816,0.03],[0.0834,-0.01],[0.0851,0.07],[0.0869,-0.19],
[0.0886,0.04],[0.0904,0.11],[0.0921,-0.06],[0.0939,0.02],[0.0956,-0.12],[0.0974,0.08],[0.0991,-0.03],
[0.1014,0.10],[0.1031,-0.04],[0.1049,0.06],[0.1066,-0.11],[0.1084,0.02],[0.1101,0.14],[0.1119,-0.07],[0.1136,0.04],[0.1154,-0.01],[0.1171,0.09],
[0.1189,-0.14],[0.1206,0.06],[0.1224,0.00],[0.1241,-0.08],[0.1259,0.12],[0.1276,-0.03],[0.1294,0.05],[0.1311,-0.16],[0.1329,0.08],[0.1346,0.01],
[0.1364,-0.06],[0.1381,0.11],[0.1399,-0.10],[0.1416,0.03],[0.1434,0.16],[0.1451,-0.04],[0.1469,0.07],[0.1486,-0.12],[0.1504,0.02],[0.1521,-0.02],
[0.1539,0.10],[0.1556,-0.08],[0.1574,0.05],[0.1591,0.13],[0.1609,-0.13],[0.1626,0.00],[0.1644,0.08],[0.1661,-0.05],[0.1679,0.04],[0.1696,-0.18],
[0.1714,0.06],[0.1731,-0.01],[0.1749,0.12],[0.1766,-0.09],[0.1784,0.03],[0.1801,0.07],[0.1819,-0.15],[0.1836,0.01],[0.1854,0.14],[0.1871,-0.06],
[0.1889,0.05],[0.1906,-0.11],[0.1924,0.09],[0.1941,-0.02],[0.1959,0.04],[0.1976,-0.08],
[0.2014,0.13],[0.2031,-0.05],[0.2049,0.02],[0.2066,-0.12],[0.2084,0.09],[0.2101,0.00],[0.2119,-0.07],[0.2136,0.15],[0.2154,-0.02],[0.2171,0.05],
[0.2189,-0.16],[0.2206,0.07],[0.2224,0.01],[0.2241,-0.09],[0.2259,0.11],[0.2276,-0.04],[0.2294,0.04],[0.2311,-0.13],[0.2329,0.08],[0.2346,0.18],
[0.2364,-0.06],[0.2381,0.02],[0.2399,-0.10],[0.2416,0.06],[0.2434,-0.01],[0.2451,0.12],[0.2469,-0.14],[0.2486,0.03],[0.2504,-0.05],[0.2521,0.09],
[0.2539,0.00],[0.2556,-0.08],[0.2574,0.14],[0.2591,-0.03],[0.2609,0.06],[0.2626,-0.11],[0.2644,0.10],[0.2661,0.02],[0.2679,-0.06],[0.2696,0.13],
[0.2714,-0.15],[0.2731,0.04],[0.2749,-0.01],[0.2766,0.08],[0.2784,-0.09],[0.2801,0.16],[0.2819,0.01],[0.2836,-0.04],[0.2854,0.07],[0.2871,-0.12],
[0.2889,0.10],[0.2906,-0.02],[0.2924,0.05],[0.2941,-0.17],[0.2959,0.09],[0.2976,0.03],
[0.3014,-0.06],[0.3031,0.08],[0.3049,-0.01],[0.3066,0.12],[0.3084,-0.11],[0.3101,0.04],[0.3119,0.17],[0.3136,-0.03],[0.3154,0.06],[0.3171,-0.14],
[0.3189,0.09],[0.3206,0.00],[0.3224,-0.07],[0.3241,0.14],[0.3259,-0.02],[0.3276,0.05],[0.3294,-0.12],[0.3311,0.10],[0.3329,0.02],[0.3346,-0.08],
[0.3364,0.15],[0.3381,-0.04],[0.3399,0.07],[0.3416,-0.15],[0.3434,0.03],[0.3451,0.11],[0.3469,-0.06],[0.3486,0.01],[0.3504,0.08],[0.3521,-0.10],
[0.3539,0.13],[0.3556,-0.02],[0.3574,0.05],[0.3591,-0.13],[0.3609,0.09],[0.3626,0.00],[0.3644,-0.05],[0.3661,0.16],[0.3679,-0.08],[0.3696,0.04],
[0.3714,-0.01],[0.3731,0.11],[0.3749,-0.12],[0.3766,0.06],[0.3784,0.02],[0.3801,-0.07],[0.3819,0.14],[0.3836,-0.03],[0.3854,0.07],[0.3871,-0.16],
[0.3889,0.10],[0.3906,0.01],[0.3924,-0.09],[0.3941,0.12],[0.3959,-0.04],[0.3976,0.05],
[0.4014,0.09],[0.4031,-0.12],[0.4049,0.03],[0.4066,-0.19],[0.4084,0.06],[0.4101,-0.05],[0.4119,0.13],[0.4136,-0.16],[0.4154,0.01],[0.4171,-0.09],
[0.4189,0.10],[0.4206,-0.23],[0.4224,0.04],[0.4241,-0.03],[0.4259,0.15],[0.4276,-0.12],[0.4294,0.07],[0.4311,-0.06],[0.4329,-0.20],[0.4346,0.11],
[0.4364,0.02],[0.4381,-0.14],[0.4399,0.08],[0.4416,-0.04],[0.4434,0.16],[0.4451,-0.10],[0.4469,0.05],[0.4486,-0.21],[0.4504,0.00],[0.4521,0.12],
[0.4539,-0.07],[0.4556,0.04],[0.4574,-0.15],[0.4591,0.09],[0.4609,-0.02],[0.4626,0.14],[0.4644,-0.11],[0.4661,0.06],[0.4679,-0.26],[0.4696,0.02],
[0.4714,0.10],[0.4731,-0.08],[0.4749,-0.18],[0.4766,0.07],[0.4784,0.01],[0.4801,-0.13],[0.4819,0.11],[0.4836,-0.05],[0.4854,0.04],[0.4871,-0.22],
[0.4889,0.08],[0.4906,-0.03],[0.4924,0.13],[0.4941,-0.10],[0.4959,0.05],[0.4976,-0.16]
];

const FONT = "'DejaVu Sans', sans-serif";
const INK = '#111';
const fmt = (v) => String(v).replace('-', '\u2212');

// one side of a panel frame: a long-tick axis (optionally labelled) + a short-tick axis
function frameAxes(grid, pos, min, max, major, minor, label, name) {
  const base = {
    type: 'value', gridIndex: grid, position: pos, min: min, max: max,
    splitLine: { show: false },
  };
  const main = Object.assign({}, base, {
    axisLine: { show: true, onZero: false, lineStyle: { color: INK, width: 1.5 } },
    axisTick: { show: true, inside: true, length: 10, customValues: major, lineStyle: { color: INK, width: 1.3 } },
    axisLabel: label ? {
      show: true, customValues: major, formatter: fmt, margin: 14,
      color: INK, fontSize: 16, fontFamily: FONT
    } : { show: false },
  });
  if (name) {
    main.name = name;
    main.nameLocation = 'middle';
    main.nameTextStyle = { color: INK, fontSize: 21, fontFamily: FONT };
    main.nameGap = (pos === 'bottom') ? 38 : 74;
  }
  const small = Object.assign({}, base, {
    axisLine: { show: false, onZero: false },
    axisTick: { show: true, inside: true, length: 5, customValues: minor, lineStyle: { color: INK, width: 1.3 } },
    axisLabel: { show: false },
  });
  return [main, small];
}

const xAxes = [].concat(
  frameAxes(0, 'bottom', -0.5, 0.5, phaseMajor, phaseMinor, false),      // 0,1
  frameAxes(0, 'top', -0.5, 0.5, phaseMajor, phaseMinor, false),         // 2,3
  frameAxes(1, 'bottom', -0.5, 0.5, phaseMajor, phaseMinor, true, 'Orbital phase'), // 4,5
  frameAxes(1, 'top', -0.5, 0.5, phaseMajor, phaseMinor, false)          // 6,7
);
const yAxes = [].concat(
  frameAxes(0, 'left', 0, 1.7, fluxMajor, fluxMinor, true, 'Normalised Flux'), // 0,1
  frameAxes(0, 'right', 0, 1.7, fluxMajor, fluxMinor, false),                   // 2,3
  frameAxes(1, 'left', -0.4, 0.4, residMajor, residMinor, true, 'Residuals'),  // 4,5
  frameAxes(1, 'right', -0.4, 0.4, residMajor, residMinor, false)              // 6,7
);

const chart = echarts.init(document.getElementById('chart'), null, { renderer: 'canvas' });
chart.setOption({
  animation: false,
  backgroundColor: '#fff',
  grid: [
    { left: 97, right: 1, top: 1, height: 430.5, outerBoundsMode: 'none' },
    { left: 97, right: 1, top: 431.5, height: 112.5, outerBoundsMode: 'none' }
  ],
  xAxis: xAxes,
  yAxis: yAxes,
  series: [
    {
      type: 'scatter', xAxisIndex: 0, yAxisIndex: 0,
      data: fluxObsA.concat(fluxObsB), symbolSize: 4.2,
      itemStyle: { color: '#000', opacity: 1 }, silent: true
    },
    {
      type: 'line', xAxisIndex: 0, yAxisIndex: 0,
      data: modelPhase.map((p, i) => [p, modelFlux[i]]),
      showSymbol: false, smooth: false, z: 5,
      lineStyle: { color: '#ff0000', width: 2 }, silent: true
    },
    {
      type: 'scatter', xAxisIndex: 4, yAxisIndex: 4,
      data: residObsA.concat(residObsB), symbolSize: 4.2,
      itemStyle: { color: '#000', opacity: 1 }, silent: true
    },
    {
      // mean error bar with its caption
      type: 'custom', xAxisIndex: 0, yAxisIndex: 0,
      data: [meanErrorAt], silent: true,
      renderItem: function (params, api) {
        const x = api.value(0), y = api.value(1);
        const top = api.coord([x, y + meanErrorHalf]);
        const bot = api.coord([x, y - meanErrorHalf]);
        const mid = api.coord([x, y]);
        const st = { stroke: INK, lineWidth: 1.5 };
        return {
          type: 'group',
          children: [
            { type: 'line', shape: { x1: top[0], y1: top[1], x2: bot[0], y2: bot[1] }, style: st },
            { type: 'line', shape: { x1: top[0] - 3.5, y1: top[1], x2: top[0] + 3.5, y2: top[1] }, style: st },
            { type: 'line', shape: { x1: bot[0] - 3.5, y1: bot[1], x2: bot[0] + 3.5, y2: bot[1] }, style: st },
            { type: 'text', x: mid[0] + 7, y: mid[1] + 1,
              style: { text: 'Mean error', fill: INK, font: '18px ' + FONT, textVerticalAlign: 'middle' } }
          ]
        };
      }
    }
  ]
});
</script>
</body>
</html>
